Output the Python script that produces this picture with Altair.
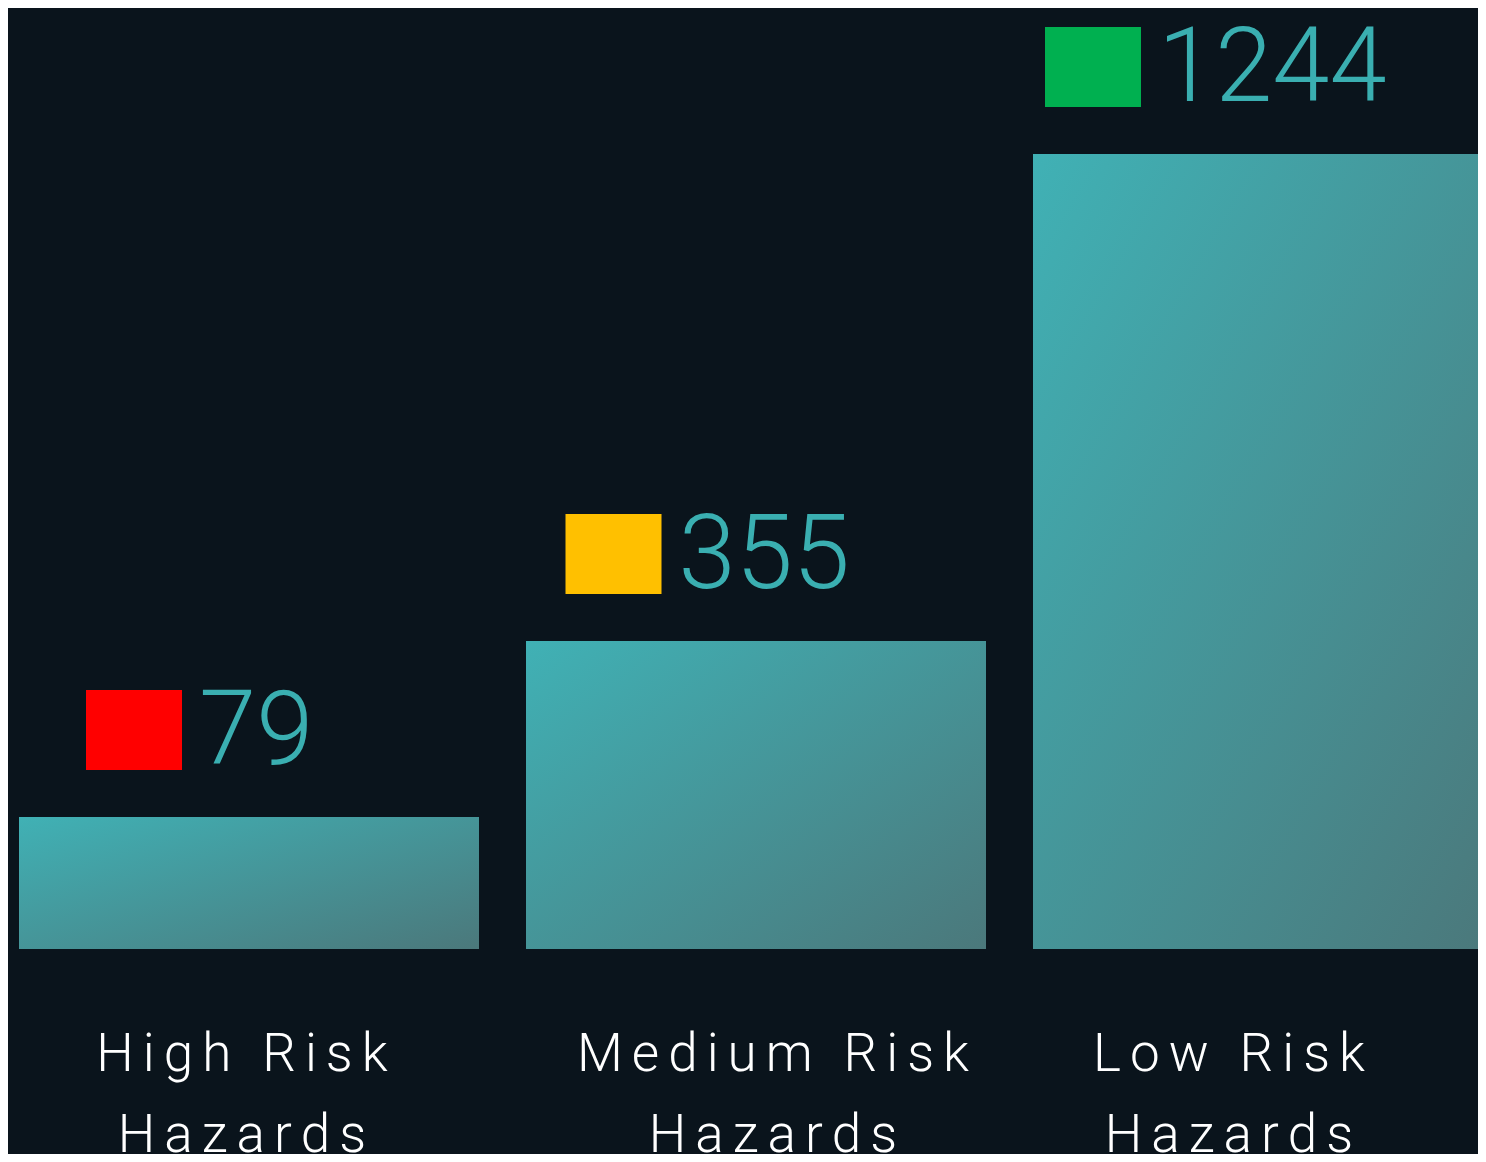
import altair as alt
import pandas as pd

# ---- data ----
categories = ["High Risk Hazards", "Medium Risk Hazards", "Low Risk Hazards"]
counts = [79, 355, 1244]
marker_colors = ["#ff0000", "#ffc000", "#00b050"]

df = pd.DataFrame({"category": categories, "count": counts, "marker": marker_colors})

SP = "\u2006"  # six-per-em space used to emulate letter spacing
label_expr = (
    f"[join(split(replace(datum.label, ' Hazards', ''), ''), '{SP}'), "
    f"join(split('Hazards', ''), '{SP}')]"
)

gradient = alt.Gradient(
    gradient="linear",
    x1=0, y1=0, x2=1, y2=1,
    stops=[
        alt.GradientStop(offset=0, color="#40b1b5"),
        alt.GradientStop(offset=1, color="#4b787b"),
    ],
)

W, H = 1470, 1146
BASE = 941  # pixel position of the bar baseline inside the chart
Y_MIN, Y_MAX = -86.6, 1530

x_enc = alt.X(
    "category:N",
    sort=categories,
    scale=alt.Scale(range=[0, 1496], paddingInner=0.0927, paddingOuter=0.0217),
    axis=alt.Axis(
        title=None,
        domain=False,
        ticks=False,
        labelAngle=0,
        labelFont="Roboto",
        labelFontWeight=300,
        labelFontSize=53,
        labelLineHeight=81,
        labelColor="#ffffff",
        labelPadding=79,
        labelLimit=0,
        offset=BASE - H,
        labelOffset={
            "condition": [
                {"test": "datum.value == 'Medium Risk Hazards'", "value": 17},
                {"test": "datum.value == 'Low Risk Hazards'", "value": -34},
            ],
            "value": -7,
        },
        labelExpr=label_expr,
    ),
)
y_enc = alt.Y(
    "count:Q",
    scale=alt.Scale(
        type="pow", exponent=0.885, domain=[Y_MIN, Y_MAX], range=[BASE, 0],
        zero=False, nice=False,
    ),
    axis=None,
)

base = alt.Chart(df).transform_calculate(
    nchar="length(toString(datum.count))",
).transform_calculate(
    numOff="230 + 5 - 27.5 * datum.nchar",
).transform_calculate(
    sqOff="datum.numOff - 65",
)

bars = base.mark_bar(color=gradient).encode(
    x=x_enc,
    y=y_enc,
    y2=alt.datum(Y_MIN),
)

square_path = "M-1,-0.8333L1,-0.8333L1,0.8333L-1,0.8333Z"
squares = base.mark_point(
    shape=square_path, size=9216, filled=True, opacity=1, strokeWidth=0, yOffset=-87
).encode(
    x=x_enc,
    y=y_enc,
    xOffset=alt.XOffset("sqOff:Q", scale=None),
    color=alt.Color("marker:N", scale=None),
)

numbers = base.mark_text(
    align="left",
    baseline="alphabetic",
    dy=-53,
    font="Roboto",
    fontWeight=300,
    fontSize=103,
    color="#3aafb1",
).encode(
    x=x_enc,
    y=y_enc,
    xOffset=alt.XOffset("numOff:Q", scale=None),
    text=alt.Text("count:Q"),
)

chart = (
    alt.layer(bars, squares, numbers)
    .properties(
        width=W,
        height=H,
        padding=0,
        autosize=alt.AutoSizeParams(type="none"),
        background="#0a141c",
    )
    .configure_view(stroke=None)
)

chart.save("out.html", embed_options={"renderer": "svg", "actions": False})
